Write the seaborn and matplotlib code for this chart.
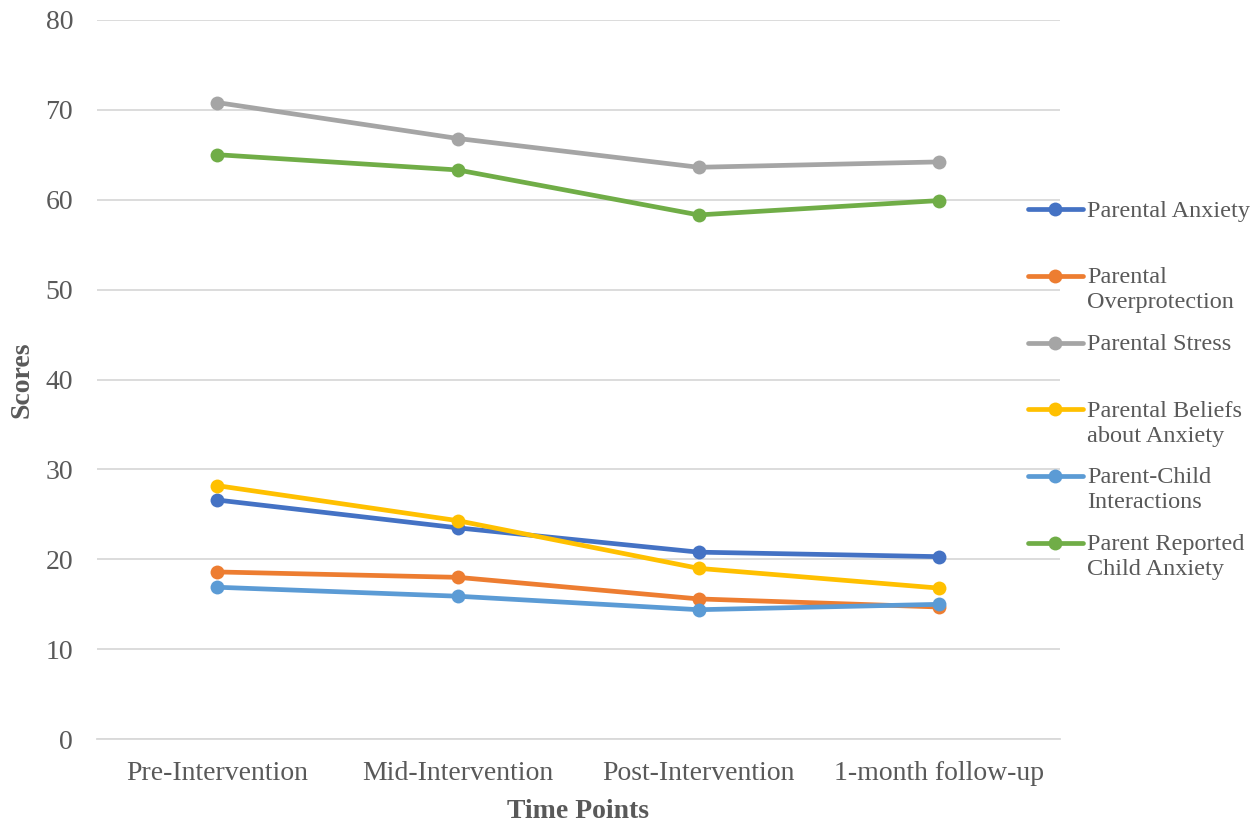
import matplotlib; matplotlib.use("Agg")
import numpy as np
import pandas as pd
import matplotlib.pyplot as plt
import seaborn as sns

time_points = ["Pre-Intervention", "Mid-Intervention", "Post-Intervention", "1-month follow-up"]
measures = ["Parental Anxiety", "Parental Overprotection", "Parental Stress",
            "Parental Beliefs about Anxiety", "Parent-Child Interactions",
            "Parent Reported Child Anxiety"]
legend_labels = ["Parental Anxiety\n ", "Parental\nOverprotection", "Parental Stress\n ",
                 "Parental Beliefs\nabout Anxiety", "Parent-Child\nInteractions",
                 "Parent Reported\nChild Anxiety"]
parental_anxiety = [26.6, 23.5, 20.8, 20.3]
parental_overprotection = [18.6, 18.0, 15.6, 14.7]
parental_stress = [70.8, 66.8, 63.6, 64.2]
parental_beliefs = [28.2, 24.3, 19.0, 16.8]
parent_child = [16.9, 15.9, 14.4, 15.0]
child_anxiety = [65.0, 63.3, 58.3, 59.9]
colors = ["#4472C4", "#ED7D31", "#A5A5A5", "#FFC000", "#5B9BD5", "#70AD47"]

series = [parental_anxiety, parental_overprotection, parental_stress,
          parental_beliefs, parent_child, child_anxiety]
df = pd.DataFrame([(t, m, v) for m, vals in zip(measures, series)
                   for t, v in zip(time_points, vals)],
                  columns=["time", "measure", "score"])

sns.set_style("white")
plt.rcParams["font.family"] = ["Liberation Serif", "DejaVu Serif"]

fig = plt.figure(figsize=(12.57, 8.25), dpi=100)
ax = fig.add_axes([0.077, 0.104, 0.766, 0.872])
sns.lineplot(data=df, x="time", y="score", hue="measure", hue_order=measures,
             palette=colors, marker="o", markersize=10, markeredgewidth=0,
             linewidth=3.4, sort=False, ax=ax)

ax.set_xlim(-0.5, 3.5)
ax.set_ylim(0, 80)
ax.set_yticks(range(0, 81, 10))
ax.yaxis.grid(True, color="#D9D9D9", lw=1.3)
ax.set_axisbelow(True)
for s in ["top", "right", "left"]:
    ax.spines[s].set_visible(False)
ax.spines["bottom"].set_color("#D9D9D9")
ax.spines["bottom"].set_linewidth(1.3)
ax.tick_params(axis="both", length=0, labelsize=20, labelcolor="#595959")
ax.tick_params(axis="y", pad=17)
ax.tick_params(axis="x", pad=16)
ax.set_xlabel("Time Points", fontsize=20, fontweight="bold", color="#595959", labelpad=9)
ax.set_ylabel("Scores", fontsize=20, fontweight="bold", color="#595959", labelpad=8)

handles, _ = ax.get_legend_handles_labels()
leg = ax.legend(handles, legend_labels, loc="upper left", bbox_to_anchor=(0.957, 0.762),
                frameon=False, fontsize=17.5, labelspacing=0.85, handlelength=2.26,
                handletextpad=0.16, borderaxespad=0)
for col in leg._legend_handle_box.get_children():
    for item in col.get_children():
        item.align = "top"
for t in leg.get_texts():
    t.set_color("#595959")
    t.set_linespacing(1.25)

fig.savefig("out.png", dpi=100)
